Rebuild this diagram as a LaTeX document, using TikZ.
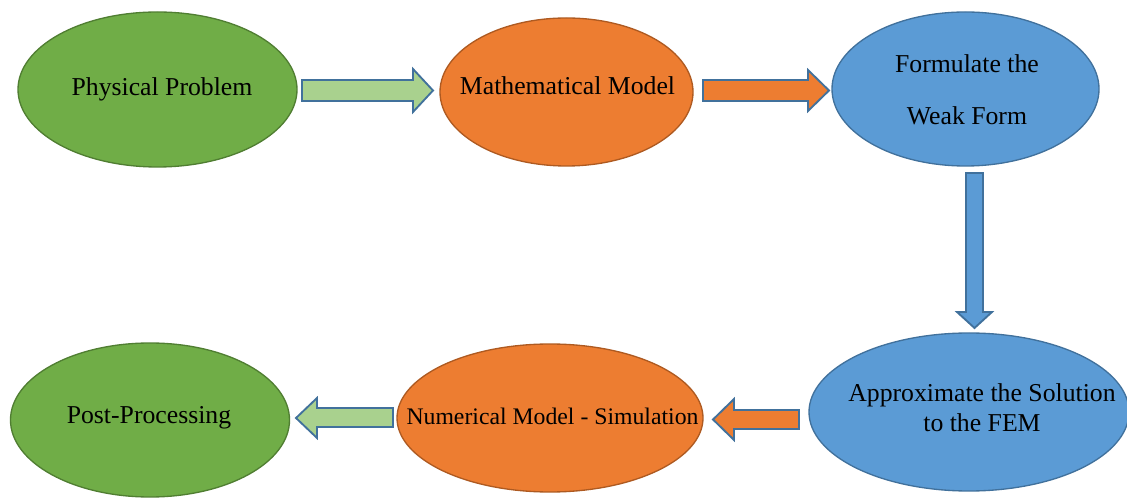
\documentclass[tikz,border=0pt]{standalone}
\usepackage{fontspec}
\setmainfont{Liberation Serif}
\usetikzlibrary{shapes.geometric}
\definecolor{gfill}{HTML}{70AD47}
\definecolor{gline}{HTML}{507E32}
\definecolor{ofill}{HTML}{ED7D31}
\definecolor{oline}{HTML}{AE5A21}
\definecolor{bfill}{HTML}{5B9BD5}
\definecolor{bline}{HTML}{41719C}
\definecolor{lgfill}{HTML}{A9D18E}
\tikzset{
  oval/.style={ellipse, inner sep=0pt, line width=1pt, align=center,
    font=\fontsize{19.3}{22.5}\selectfont},
  greenoval/.style={oval, fill=gfill, draw=gline},
  orangeoval/.style={oval, fill=ofill, draw=oline},
  blueoval/.style={oval, fill=bfill, draw=bline},
  label/.style={inner sep=0pt, align=center, font=\fontsize{19.3}{22.5}\selectfont},
  barrow/.style={line width=1.4pt, draw=bline, line join=miter}
}
\begin{document}
\begin{tikzpicture}[x=0.75pt,y=-0.75pt]
\useasboundingbox (0,0) rectangle (1127,498);
% ellipses
\node[greenoval, minimum width=279pt*0.75, minimum height=155pt*0.75] (pp) at (157.5,89.5) {};
\node[orangeoval, minimum width=253pt*0.75, minimum height=148pt*0.75] (mm) at (566.5,92) {};
\node[blueoval, minimum width=267pt*0.75, minimum height=154pt*0.75] (wf) at (965.5,89) {};
\node[blueoval, minimum width=320pt*0.75, minimum height=158pt*0.75] (ap) at (969,412) {};
\node[orangeoval, minimum width=306pt*0.75, minimum height=148pt*0.75] (nm) at (550,418) {};
\node[greenoval, minimum width=279pt*0.75, minimum height=154pt*0.75] (po) at (150,420) {};
% labels
\node[label] (tpp) at (162,89) {Physical Problem};
\node[label] (tmm) at (567.5,86) {Mathematical Model};
\node[label] (twf1) at (967,64) {Formulate the};
\node[label] (twf2) at (967,116) {Weak Form};
\node[label] (tap) at (982,408) {Approximate the Solution\\to the FEM};
\node[label, font=\fontsize{17.8}{21}\selectfont] (tnm) at (552.5,416) {Numerical Model - Simulation};
\node[label] (tpo) at (149,418) {Post-Processing};
% block arrows
\draw[barrow, fill=lgfill] (302,80) -- (413,80) -- (413,69) -- (433,90.5) -- (413,112) -- (413,101) -- (302,101) -- cycle;
\draw[barrow, fill=ofill] (703,80) -- (808,80) -- (808,70) -- (829,90.5) -- (808,111) -- (808,101) -- (703,101) -- cycle;
\draw[barrow, fill=bfill] (966,173) -- (983,173) -- (983,312) -- (992,312) -- (974.5,328) -- (957,312) -- (966,312) -- cycle;
\draw[barrow, fill=ofill] (799,410) -- (734,410) -- (734,399) -- (713,419.5) -- (734,440) -- (734,429) -- (799,429) -- cycle;
\draw[barrow, fill=lgfill] (393,408) -- (317,408) -- (317,398) -- (296,418) -- (317,438) -- (317,427) -- (393,427) -- cycle;
\end{tikzpicture}
\end{document}
